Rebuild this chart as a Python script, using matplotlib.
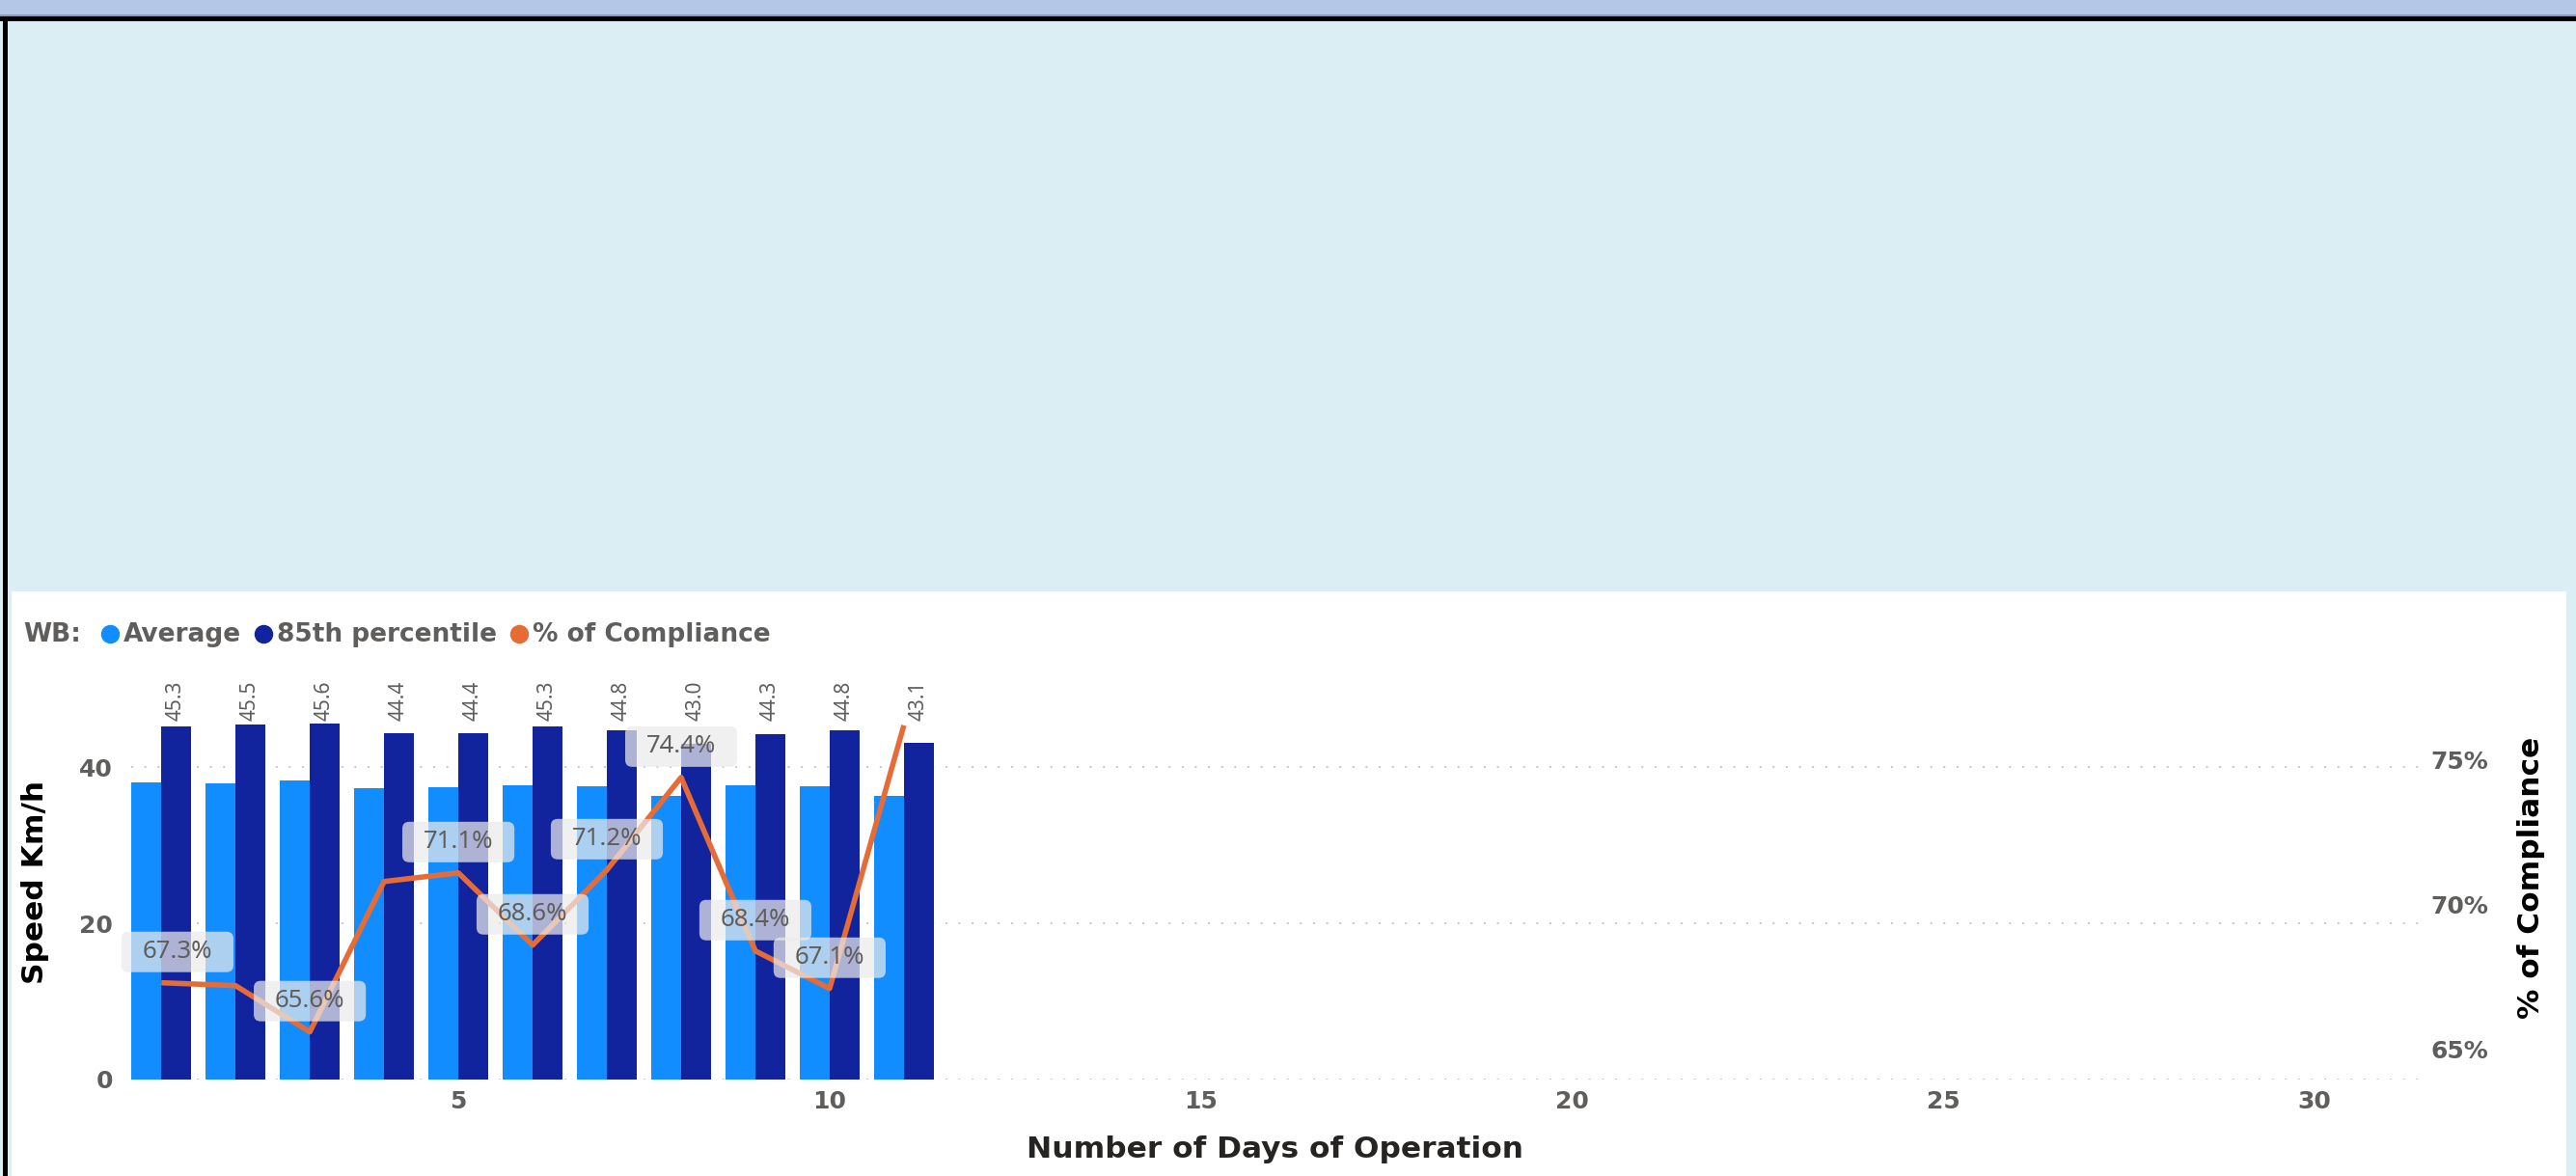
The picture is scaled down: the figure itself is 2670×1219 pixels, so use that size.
import numpy as np
import matplotlib.pyplot as plt
from matplotlib.patches import Rectangle, BoxStyle
from matplotlib.lines import Line2D
from matplotlib.ticker import FuncFormatter

# daily speed survey, westbound
days = np.arange(1, 12)
avg_speed = [38.1, 38.0, 38.3, 37.3, 37.5, 37.7, 37.6, 36.3, 37.7, 37.6, 36.3]
p85_speed = [45.3, 45.5, 45.6, 44.4, 44.4, 45.3, 44.8, 43.0, 44.3, 44.8, 43.1]
compliance = [67.3, 67.2, 65.6, 70.8, 71.1, 68.6, 71.2, 74.4, 68.4, 67.1, 76.2]
labelled_days = [1, 3, 5, 6, 7, 8, 9, 10]
day_ticks = [5, 10, 15, 20, 25, 30]
speed_ticks = [0, 20, 40]
pct_ticks = [65, 70, 75]

C_AVG = '#118DFF'
C_P85 = '#12239E'
C_LINE = '#E66C37'
C_TXT = '#605E5C'

plt.rcParams['font.family'] = 'DejaVu Sans'

W, H = 2670, 1219
fig = plt.figure(figsize=(W / 100, H / 100), dpi=100)
fig.patch.set_facecolor('#DBEEF3')


def px_rect(x0, y0, x1, y1, color):
    # rectangle given in pixels, origin top-left
    fig.add_artist(Rectangle((x0 / W, 1 - y1 / H), (x1 - x0) / W, (y1 - y0) / H,
                             transform=fig.transFigure, facecolor=color,
                             edgecolor='none', zorder=-5))


px_rect(0, 0, W, 17, '#B4C7E7')
px_rect(0, 15, W, 17, '#8C9BB3')
px_rect(0, 17, W, 22, 'black')
px_rect(0, 22, W, H, '#DBEEF3')
px_rect(3, 17, 8, H, 'black')
px_rect(12, 613, 2660, H, 'white')

# plot area
ax_l, ax_r, ax_t, ax_b = 136.4, 2507, 700, 1118.8
ax = fig.add_axes([ax_l / W, 1 - ax_b / H, (ax_r - ax_l) / W, (ax_b - ax_t) / H])
ax.patch.set_visible(False)
ax2 = ax.twinx()

ax.bar(days - 0.2, avg_speed, width=0.4, color=C_AVG, zorder=2)
ax.bar(days + 0.2, p85_speed, width=0.4, color=C_P85, zorder=2)
for d, v in zip(days, p85_speed):
    ax.text(d + 0.2, 46.0, f'{v:.1f}', rotation=90, ha='center', va='bottom',
            fontsize=15, family='Noto Sans', color=C_TXT)

ax.set_xlim(0.6, 31.4)
ax.set_ylim(0, 51.8)
ax2.set_ylim(63.96, 77.93)

ax2.plot(days, compliance, color=C_LINE, lw=4, solid_capstyle='butt',
         solid_joinstyle='round', zorder=3)


def label_box(x0, y0, width, height, mutation_size):
    padx, pady = 0.85 * mutation_size, 0.33 * mutation_size
    return BoxStyle.Round(pad=0, rounding_size=0.28)(
        x0 - padx, y0 - pady, width + 2 * padx, height + 2 * pady, mutation_size)


for d, v in zip(days, compliance):
    if d not in labelled_days:
        continue
    dx = 12 if d == 1 else 0
    ax2.annotate(f'{v:.1f}%', xy=(d, v), xytext=(dx, 23), textcoords='offset points',
                 ha='center', va='center', fontsize=18.5, family='Noto Sans',
                 color=C_TXT, zorder=5,
                 bbox=dict(boxstyle=label_box, fc='#EBEBEB', ec='none', alpha=0.72))

ax.set_xticks(day_ticks)
ax.set_yticks(speed_ticks)
ax2.set_yticks(pct_ticks)
ax2.yaxis.set_major_formatter(FuncFormatter(lambda v, _: f'{v:.0f}%'))
ax.tick_params(axis='x', length=0, pad=8, labelsize=18, labelcolor=C_TXT)
ax.tick_params(axis='y', length=0, pad=14, labelsize=18, labelcolor=C_TXT)
ax2.tick_params(axis='y', length=0, pad=9, labelsize=18, labelcolor=C_TXT)
for lbl in ax.get_xticklabels() + ax.get_yticklabels() + ax2.get_yticklabels():
    lbl.set_fontweight('bold')

ax.yaxis.grid(True, color='#C8C6C4', linestyle=(0, (1, 6)), lw=1.4)
ax.set_axisbelow(True)
for a in (ax, ax2):
    for s in a.spines.values():
        s.set_visible(False)

# axis titles
fig.text(37 / W, 1 - 914 / H, 'Speed Km/h', rotation=90, ha='center', va='center',
         fontsize=22.5, weight='bold', color='black')
fig.text(2624 / W, 1 - 910 / H, '% of Compliance', rotation=90, ha='center', va='center',
         fontsize=22.5, weight='bold', color='black')
fig.text(1322 / W, 1 - 1192 / H, 'Number of Days of Operation', ha='center', va='center',
         fontsize=22.5, weight='bold', color='#252423')

# legend laid out left to right
renderer = fig.canvas.get_renderer()
x, base_y, dot_y = 24, 665, 657
t = fig.text(x / W, 1 - base_y / H, 'WB:', ha='left', va='baseline',
             fontsize=19, weight='bold', color=C_TXT)
x += t.get_window_extent(renderer).width + 21
for name, color in [('Average', C_AVG), ('85th percentile', C_P85),
                    ('% of Compliance', C_LINE)]:
    fig.add_artist(Line2D([(x + 9) / W], [1 - dot_y / H], marker='o', markersize=13,
                          color=color, transform=fig.transFigure))
    x += 23
    t = fig.text(x / W, 1 - base_y / H, name, ha='left', va='baseline',
                 fontsize=19, weight='bold', color=C_TXT)
    x += t.get_window_extent(renderer).width + 14

fig.savefig('out.png', dpi=100)
